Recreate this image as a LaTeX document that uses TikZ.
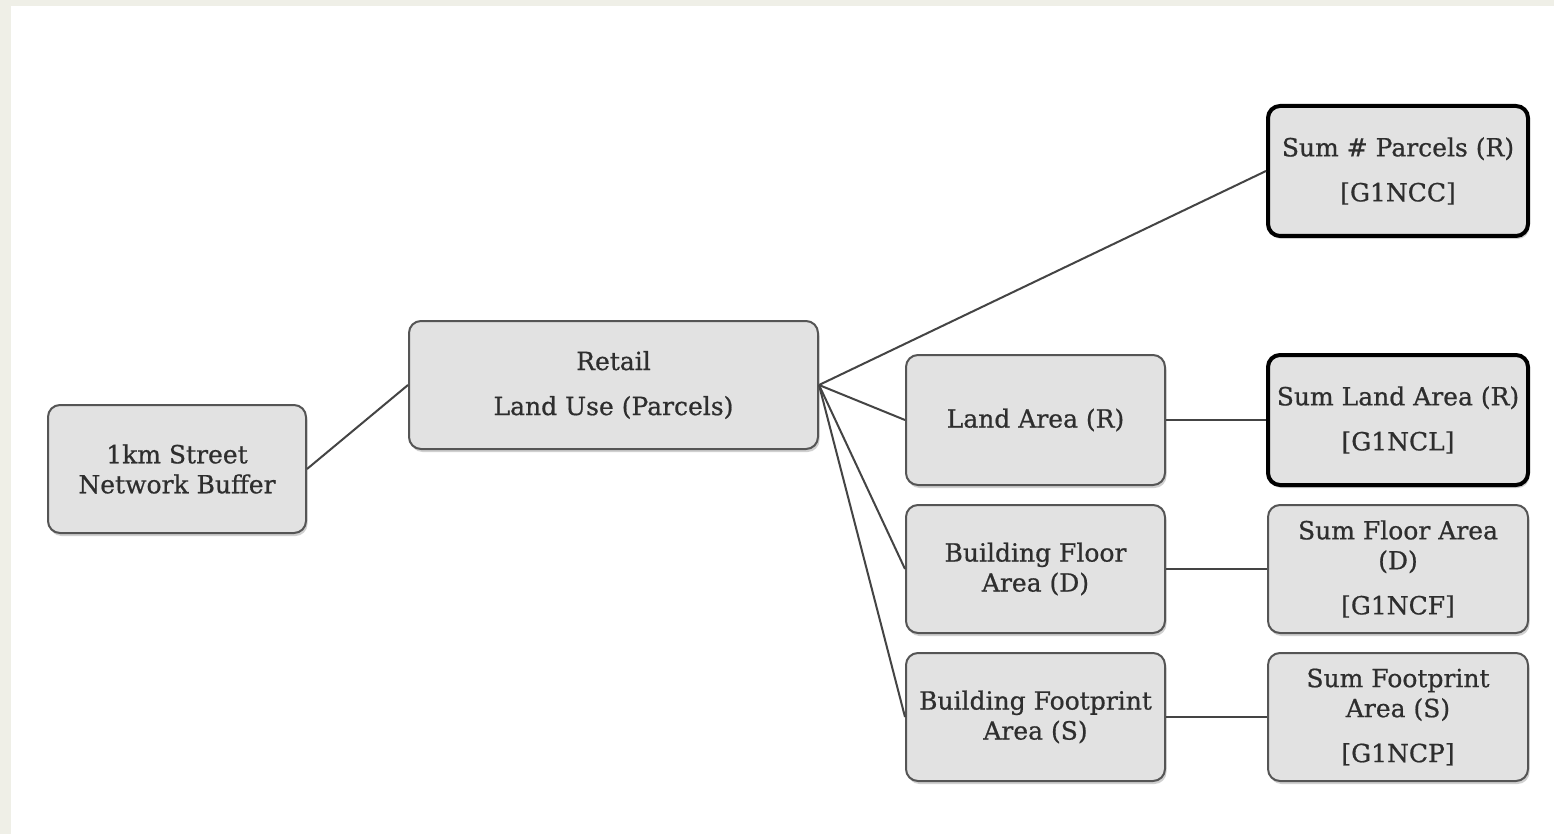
\documentclass[tikz,border=0pt]{standalone}
\usepackage{fontspec}
\setmainfont{DejaVu Serif}
\newfontfamily\boxfont[FakeBold=0.7]{DejaVu Serif}
\usetikzlibrary{shadows}
\definecolor{beige}{HTML}{EFEFE7}
\definecolor{boxfill}{HTML}{E2E2E2}
\definecolor{boxline}{HTML}{555555}
\definecolor{linkcol}{HTML}{444444}
\definecolor{textcol}{HTML}{2E2E2E}
\begin{document}
\begin{tikzpicture}[x=1pt,y=-1pt,
  box/.style={draw=boxline, line width=2pt, fill=boxfill, rounded corners=12pt,
    minimum width=258pt, minimum height=128pt, align=center, inner sep=0pt,
    text=textcol, font=\boxfont\fontsize{25}{30}\selectfont,
    drop shadow={shadow xshift=1.5pt, shadow yshift=-3pt, fill=black!30, opacity=0.6}},
  sumbox/.style={box, draw=black, line width=4pt},
  link/.style={draw=linkcol, line width=2pt}]
\fill[beige] (0,0) rectangle (1554,834);
\fill[white] (11,6) rectangle (1554,834);
\useasboundingbox (0,0) rectangle (1554,834);

\node[box] (buf) at (177,469) {1km Street\\Network Buffer};
\node[box, minimum width=409pt] (ret) at (613.5,385) {Retail\\[15pt]Land Use (Parcels)};
\node[box, minimum width=259pt, minimum height=130pt] (land) at (1035.5,420) {Land Area (R)};
\node[box, minimum width=259pt] (floor) at (1035.5,569) {Building Floor\\Area (D)};
\node[box, minimum width=259pt] (foot) at (1035.5,717) {Building Footprint\\Area (S)};
\node[sumbox, minimum width=260pt, minimum height=130pt] (sparc) at (1398,171) {Sum \# Parcels (R)\\[15pt][G1NCC]};
\node[sumbox, minimum width=260pt, minimum height=130pt] (sland) at (1398,420) {Sum Land Area (R)\\[15pt][G1NCL]};
\node[box, minimum width=260pt] (sfloor) at (1398,569) {Sum Floor Area\\(D)\\[15pt][G1NCF]};
\node[box, minimum width=260pt] (sfoot) at (1398,717) {Sum Footprint\\Area (S)\\[15pt][G1NCP]};

\draw[link] (buf.east) -- (ret.west);
\draw[link] (ret.east) -- (sparc.west);
\draw[link] (ret.east) -- (land.west);
\draw[link] (ret.east) -- (floor.west);
\draw[link] (ret.east) -- (foot.west);
\draw[link] (land.east) -- (sland.west);
\draw[link] (floor.east) -- (sfloor.west);
\draw[link] (foot.east) -- (sfoot.west);
\end{tikzpicture}
\end{document}
